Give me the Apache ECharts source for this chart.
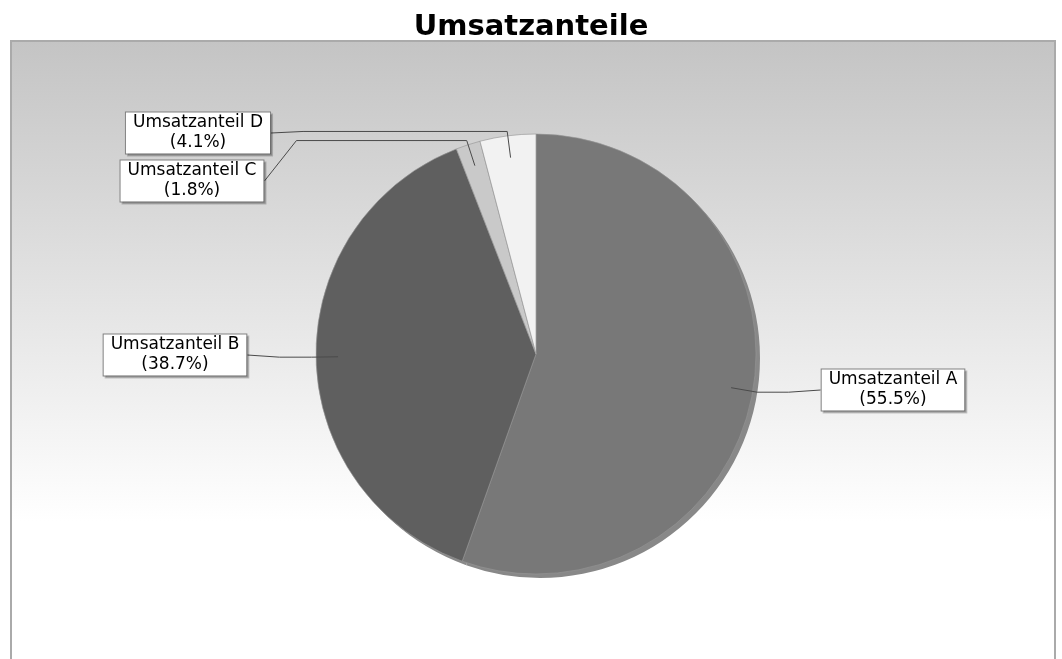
<!DOCTYPE html>
<html><head><meta charset="utf-8">
<script src="https://cdn.jsdelivr.net/npm/echarts@6/dist/echarts.min.js"></script>
<style>html,body{margin:0;padding:0;background:#fff}#c{width:1062px;height:659px}</style>
</head><body><div id="c"></div>
<script>
const categories = ['Umsatzanteil A', 'Umsatzanteil B', 'Umsatzanteil C', 'Umsatzanteil D'];
const shares = [55.5, 38.7, 1.8, 4.1];
const sliceColors = ['#787878', '#5f5f5f', '#c9c9c9', '#f2f2f2'];
const titleText = 'Umsatzanteile';

const CX = 536, CY = 354, R = 220;
const labelPos = [[893, 390], [175, 355], [192, 181], [198, 133]];

const total = shares.reduce((a, b) => a + b, 0);
function midAngle(i) { let s = 0; for (let k = 0; k < i; k++) s += shares[k]; return (s + shares[i] / 2) / total * 2 * Math.PI; }
function pt(a, r) { return [CX + r * Math.sin(a), CY - r * Math.cos(a)]; }

const pieData = shares.map((v, i) => ({ name: categories[i], value: v }));

const chart = echarts.init(document.getElementById('c'), null, { renderer: 'canvas' });
chart.setOption({
  animation: false,
  title: { text: titleText, left: 'center', top: 8,
    textStyle: { fontFamily: 'DejaVu Sans', fontWeight: 'bold', fontSize: 29, color: '#000' } },
  graphic: { elements: [{ type: 'rect', z: -100, silent: true,
    shape: { x: 11, y: 41, width: 1044, height: 640 },
    style: { fill: new echarts.graphic.LinearGradient(0, 0, 0, 1, [
      { offset: 0, color: '#c4c4c4' }, { offset: 0.75, color: '#ffffff' }, { offset: 1, color: '#ffffff' }]),
      stroke: '#aaaaaa', lineWidth: 2 } }] },
  series: [
    { type: 'pie', silent: true, z: 1, center: [CX + 4, CY + 4], radius: R, startAngle: 90,
      label: { show: false }, labelLine: { show: false }, itemStyle: { color: '#888888' },
      data: pieData },
    { type: 'pie', silent: true, z: 2, center: [CX, CY], radius: R, startAngle: 90, clockwise: true,
      data: shares.map((v, i) => ({ name: categories[i], value: v, itemStyle: { color: sliceColors[i] } })),
      itemStyle: { borderColor: 'rgba(150,150,150,0.8)', borderWidth: 0.8 },
      label: { show: false }, labelLine: { show: false } },
    { type: 'pie', silent: true, z: 3, center: [CX, CY], radius: R, startAngle: 90, clockwise: true,
      data: pieData,
      itemStyle: { color: 'rgba(0,0,0,0)', borderWidth: 0 },
      label: { show: true, position: 'outside',
        formatter: p => p.name + '\n(' + p.value + '%)',
        fontFamily: 'DejaVu Sans', fontSize: 17, lineHeight: 20, color: '#000', align: 'center',
        backgroundColor: '#fff', borderColor: '#808080', borderWidth: 1, padding: [1, 7, 0, 7],
        shadowColor: 'rgba(0,0,0,0.2)', shadowOffsetX: 2, shadowOffsetY: 2 },
      labelLine: { show: true, length: 10, length2: 10, lineStyle: { color: '#4a4a4a', width: 1 } },
      labelLayout: function (p) {
        const i = p.dataIndex;
        const lx = labelPos[i][0], ly = labelPos[i][1];
        const w = p.labelRect.width;
        const a = midAngle(i);
        const right = Math.sin(a) > 0;
        const anchor = pt(a, 0.9 * R);
        const link = pt(a, 1.02 * R);
        const edgeX = right ? lx - w / 2 : lx + w / 2;
        const elbowX = right ? edgeX - 32 : edgeX + 32;
        return { x: lx, y: ly, align: 'center', verticalAlign: 'middle',
          labelLinePoints: [anchor, link, [elbowX, link[1]], [edgeX, ly]] };
      }
    }
  ]
});
</script></body></html>
